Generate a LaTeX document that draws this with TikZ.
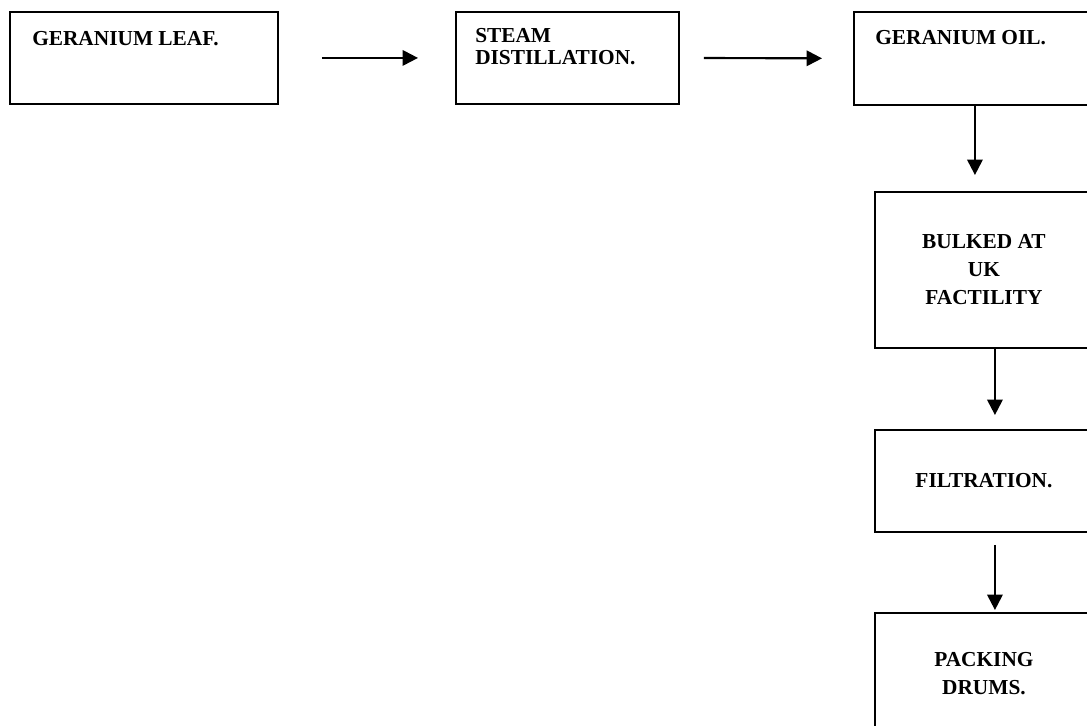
\documentclass[tikz,border=0pt]{standalone}
\usepackage{fontspec}
\setmainfont{Liberation Serif}
\usetikzlibrary{arrows.meta, positioning, calc}

\begin{document}
\begin{tikzpicture}[
    x=0.75pt, y=-0.75pt,
    % Style definitions
    stage/.style={draw, line width=1.4pt, rectangle, anchor=north west, inner sep=0pt, minimum width=163.5pt},
    label/.style={font=\bfseries\fontsize{16}{16}\selectfont, align=left, inner sep=0pt, anchor=base west},
    centred/.style={font=\bfseries\fontsize{16}{21}\selectfont, align=center},
    arrow/.style={-{Triangle[length=11.5pt, width=11.5pt]}, line width=1.6pt},
]
\useasboundingbox (0,0) rectangle (1087,725);
\clip (0,0) rectangle (1087,725);

%% ---------- TOP ROW ----------
\node[stage, minimum width=201pt, minimum height=69pt] (leaf) at (9,11) {};
\node[stage, minimum width=167.25pt, minimum height=69pt] (steam) at (455,11) {};
\node[stage, minimum width=181.5pt, minimum height=69.75pt] (oil) at (853,11) {};

\node[label] (leaf_txt) at ([xshift=17.25pt, yshift=-25.5pt]leaf.north west) {GERANIUM LEAF.};
\node[label, anchor=north west] (steam_txt) at ([xshift=15pt, yshift=-13pt]steam.north west) {STEAM\\DISTILLATION.};
\node[label] (oil_txt) at ([xshift=16.5pt, yshift=-24.75pt]oil.north west) {GERANIUM OIL.};

%% ---------- RIGHT COLUMN ----------
\node[stage, minimum height=117pt, centred] (bulk) at (874,191) {BULKED AT\\UK\\FACTILITY};
\node[stage, minimum height=76.5pt, centred] (filt) at (874,429) {FILTRATION.};
\node[stage, minimum height=91.5pt, centred] (pack) at (874,612) {PACKING\\DRUMS.};

%% ========== ARROWS ==========
\draw[arrow, shorten <=32.25pt, shorten >=27.75pt] (leaf.east) -- (steam.west);
\draw[arrow, shorten <=18pt, shorten >=23.25pt] (steam.east) -- (oil.west);
\draw[arrow, shorten >=12pt] (oil.south) -- (oil.south |- bulk.north);
\draw[arrow, shorten >=10.5pt] ([xshift=8.25pt]bulk.south) -- ([xshift=8.25pt]filt.north);
\draw[arrow, shorten <=9pt, shorten >=1.5pt] ([xshift=8.25pt]filt.south) -- ([xshift=8.25pt]pack.north);

\end{tikzpicture}
\end{document}
